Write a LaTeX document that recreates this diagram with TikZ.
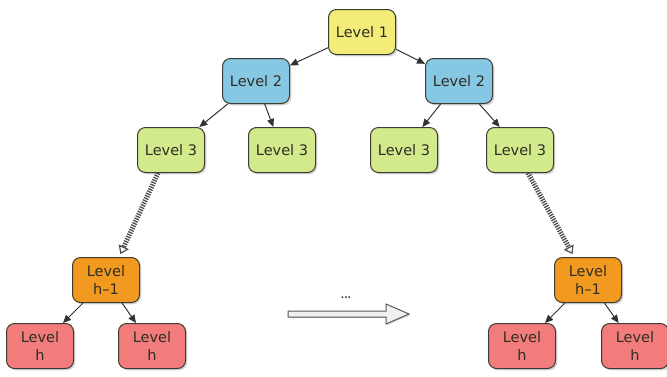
\documentclass[tikz,border=0pt]{standalone}
\usepackage{fontspec}
\setmainfont{DejaVu Sans}
\usetikzlibrary{arrows.meta,shadows,calc}
\definecolor{cyel}{HTML}{F4EC78}
\definecolor{cblue}{HTML}{86C8E4}
\definecolor{cgreen}{HTML}{D3EA8C}
\definecolor{corange}{HTML}{F29A1F}
\definecolor{cred}{HTML}{F27C7C}
\definecolor{cborder}{HTML}{3C3C30}
\definecolor{ctext}{HTML}{2E2E24}
\tikzset{
  box/.style={draw=cborder, line width=1pt, rounded corners=8pt,
    minimum width=67pt, minimum height=45pt, inner sep=1pt, align=center,
    font=\fontsize{14.5}{17.5}\selectfont, text=ctext,
    drop shadow={shadow xshift=1.8pt, shadow yshift=-1.8pt, opacity=0.35}},
  edge/.style={draw=black!80, line width=1pt, -{Triangle[length=8pt,width=7pt]}},
  hatch/.style={draw=gray!60!black, line width=5pt, dash pattern=on 1.3pt off 1.2pt,
    -{Triangle[open,length=8pt,width=11pt,line width=1.2pt,sep=0pt]}, shorten >=1pt},
}
\begin{document}
\begin{tikzpicture}[x=1pt,y=-1pt]
\useasboundingbox (0,0) rectangle (667,376);
\node[box, fill=cyel] (a) at (362,32) {Level 1};
\node[box, fill=cblue] (b1) at (256,81) {Level 2};
\node[box, fill=cblue] (b2) at (459,81) {Level 2};
\node[box, fill=cgreen] (c1) at (171,150) {Level 3};
\node[box, fill=cgreen] (c2) at (282,150) {Level 3};
\node[box, fill=cgreen] (c3) at (404,150) {Level 3};
\node[box, fill=cgreen] (c4) at (520,150) {Level 3};
\node[box, fill=corange] (d1) at (106,280) {Level\\h--1};
\node[box, fill=corange] (d2) at (588,280) {Level\\h--1};
\node[box, fill=cred] (e1) at (40,346) {Level\\h};
\node[box, fill=cred] (e2) at (152,346) {Level\\h};
\node[box, fill=cred] (e3) at (522,346) {Level\\h};
\node[box, fill=cred] (e4) at (635,346) {Level\\h};

\path[edge] (a) -- (b1);
\path[edge] (a) -- (b2);
\path[edge] (b1) -- (c1);
\path[edge] (b1) -- (c2);
\path[edge] (b2) -- (c3);
\path[edge] (b2) -- (c4);
\path[edge] (d1) -- (e1);
\path[edge] (d1) -- (e2);
\path[edge] (d2) -- (e3);
\path[edge] (d2) -- (e4);

\coordinate (h1s) at ($(c1.south)+(-13,0)$);
\coordinate (h1e) at ($(d1.north)+(14,-2)$);
\coordinate (h2s) at ($(c4.south)+(8,0)$);
\coordinate (h2e) at ($(d2.north)+(-15,-2)$);
\draw[hatch] (h1s) -- (h1e);
\draw[hatch] (h2s) -- (h2e);

\filldraw[fill=gray!12, draw=gray!70!black, line width=1pt,
  drop shadow={shadow xshift=1.2pt, shadow yshift=-1.2pt, opacity=0.3}]
  (288,311) -- (386,311) -- (386,304) -- (409,314) -- (386,324) -- (386,317) -- (288,317) -- cycle;
\node[font=\bfseries\fontsize{9}{10}\selectfont, text=gray!50!black] (dots) at (346,298) {...};
\end{tikzpicture}
\end{document}
